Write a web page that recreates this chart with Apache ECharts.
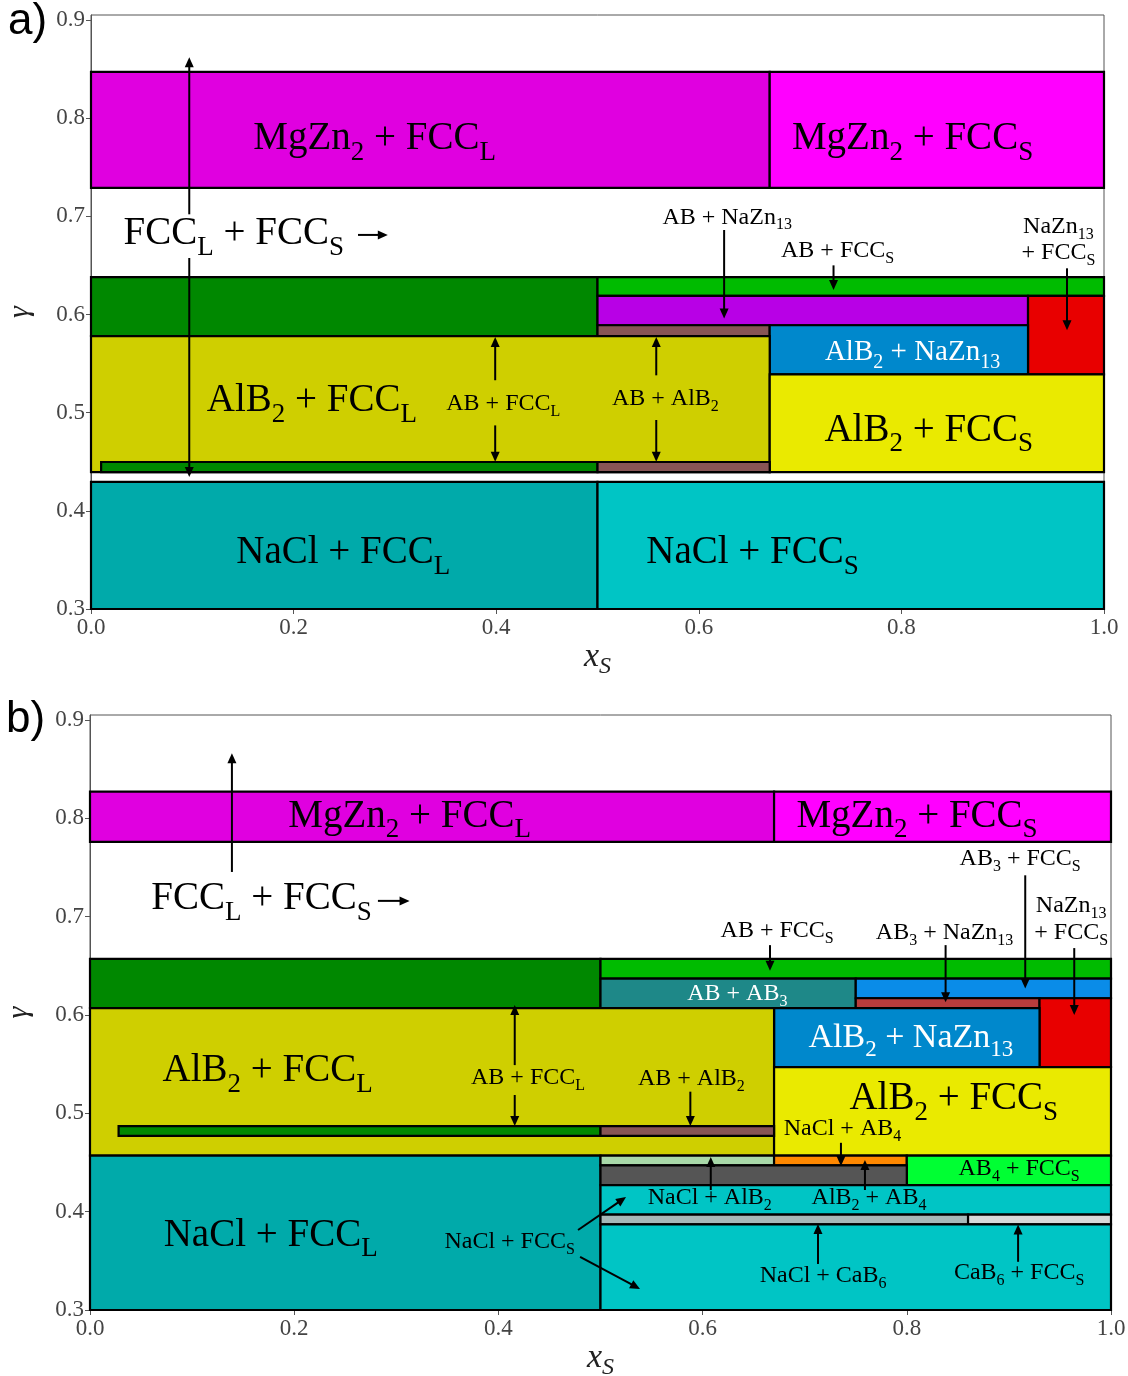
<!DOCTYPE html>
<html>
<head>
<meta charset="utf-8">
<script src="https://cdn.jsdelivr.net/npm/echarts@6/dist/echarts.min.js"></script>
<style>
  html, body { margin: 0; padding: 0; background: #fff; }
  #chart { width: 1128px; height: 1376px; }
</style>
</head>
<body>
<div id="chart"></div>
<script>
// ---- tick values ----
const xTicks = [0.0, 0.2, 0.4, 0.6, 0.8, 1.0];
const yTicks = [0.3, 0.4, 0.5, 0.6, 0.7, 0.8, 0.9];

// ---- phase regions: [phase, xS from, xS to, gamma from, gamma to] ----
const regionsA = [
  ['MgZn2+FCCL',   0.00, 0.67, 0.729, 0.847],
  ['MgZn2+FCCS',   0.67, 1.00, 0.729, 0.847],
  ['AB+FCCL',      0.00, 0.50, 0.578, 0.638],
  ['AB+FCCS',      0.50, 1.00, 0.619, 0.638],
  ['AB+NaZn13',    0.50, 0.925, 0.589, 0.619],
  ['NaZn13+FCCS',  0.925, 1.00, 0.539, 0.619],
  ['AB+AlB2',      0.50, 0.67, 0.578, 0.589],
  ['AlB2+NaZn13',  0.67, 0.925, 0.539, 0.589],
  ['AlB2+FCCL',    0.00, 0.67, 0.4395, 0.578],
  ['AlB2+FCCS',    0.67, 1.00, 0.4395, 0.539],
  ['AB+FCCL',      0.01, 0.50, 0.4395, 0.4497],
  ['AB+AlB2',      0.50, 0.67, 0.4395, 0.4497],
  ['NaCl+FCCL',    0.00, 0.50, 0.30, 0.4294],
  ['NaCl+FCCS',    0.50, 1.00, 0.30, 0.4294]
];

const regionsB = [
  ['MgZn2+FCCL',   0.00, 0.67, 0.776, 0.827],
  ['MgZn2+FCCS',   0.67, 1.00, 0.776, 0.827],
  ['AB+FCCL',      0.00, 0.50, 0.607, 0.657],
  ['AB+FCCS',      0.50, 1.00, 0.637, 0.657],
  ['AB+AB3',       0.50, 0.75, 0.607, 0.637],
  ['AB3+FCCS',     0.75, 1.00, 0.617, 0.637],
  ['AB3+NaZn13',   0.75, 0.93, 0.607, 0.617],
  ['NaZn13+FCCS',  0.93, 1.00, 0.547, 0.617],
  ['AlB2+NaZn13',  0.67, 0.93, 0.547, 0.607],
  ['AlB2+FCCL',    0.00, 0.67, 0.457, 0.607],
  ['AlB2+FCCS',    0.67, 1.00, 0.457, 0.547],
  ['AB+FCCL',      0.028, 0.50, 0.477, 0.487],
  ['AB+AlB2',      0.50, 0.67, 0.477, 0.487],
  ['NaCl+FCCL',    0.00, 0.50, 0.30, 0.457],
  ['NaCl+AlB2',    0.50, 0.67, 0.447, 0.457],
  ['NaCl+AB4',     0.67, 0.80, 0.447, 0.457],
  ['AB4+FCCS',     0.80, 1.00, 0.427, 0.457],
  ['AlB2+AB4',     0.50, 0.80, 0.427, 0.447],
  ['NaCl+FCCS',    0.50, 1.00, 0.397, 0.427],
  ['NaCl+CaB6',    0.50, 0.86, 0.387, 0.397],
  ['CaB6+FCCS',    0.86, 1.00, 0.387, 0.397],
  ['NaCl+FCCS',    0.50, 1.00, 0.30, 0.387]
];

// ---- region labels: [text, xS, gamma]; {..} marks a subscript ----
const bigLabelsA = [
  ['MgZn{2} + FCC{L}', 0.280, 0.779],
  ['MgZn{2} + FCC{S}', 0.811, 0.779],
  ['FCC{L} + FCC{S}',  0.141, 0.682],
  ['AlB{2} + FCC{L}',  0.218, 0.512],
  ['AlB{2} + FCC{S}',  0.827, 0.482],
  ['NaCl + FCC{L}',    0.249, 0.357],
  ['NaCl + FCC{S}',    0.653, 0.357]
];
const darkLabelsA = [
  ['AlB{2} + NaZn{13}', 0.811, 0.561]
];
const smallLabelsA = [
  ['AB + NaZn{13}', 0.628, 0.699],
  ['AB + FCC{S}',   0.737, 0.665],
  ['NaZn{13}',      0.955, 0.689],
  ['+ FCC{S}',      0.955, 0.663],
  ['AB + FCC{L}',   0.407, 0.509],
  ['AB + AlB{2}',   0.567, 0.514]
];

const bigLabelsB = [
  ['MgZn{2} + FCC{L}', 0.313, 0.802],
  ['MgZn{2} + FCC{S}', 0.810, 0.802],
  ['FCC{L} + FCC{S}',  0.168, 0.718],
  ['AlB{2} + FCC{L}',  0.174, 0.543],
  ['AlB{2} + FCC{S}',  0.846, 0.515],
  ['NaCl + FCC{L}',    0.177, 0.376]
];
const darkLabelsB = [
  ['AlB{2} + NaZn{13}', 0.804, 0.576]
];
const whiteSmallLabelsB = [
  ['AB + AB{3}', 0.634, 0.622]
];
const smallLabelsB = [
  ['AB{4} + FCC{S}',   0.910, 0.444],
  ['AB + FCC{S}',      0.673, 0.686],
  ['AB{3} + NaZn{13}', 0.837, 0.684],
  ['AB{3} + FCC{S}',   0.911, 0.759],
  ['NaZn{13}',         0.961, 0.711],
  ['+ FCC{S}',         0.961, 0.684],
  ['AB + FCC{L}',      0.429, 0.536],
  ['AB + AlB{2}',      0.589, 0.535],
  ['NaCl + AB{4}',     0.737, 0.484],
  ['NaCl + AlB{2}',    0.607, 0.414],
  ['AlB{2} + AB{4}',   0.763, 0.414],
  ['NaCl + FCC{S}',    0.411, 0.369],
  ['NaCl + CaB{6}',    0.718, 0.335],
  ['CaB{6} + FCC{S}',  0.910, 0.338]
];

// ---- pointer arrows: [x from, gamma from, x to, gamma to] ----
const arrowsA = [
  [0.097, 0.702, 0.097, 0.862],
  [0.097, 0.6575, 0.097, 0.4345],
  [0.2636, 0.681, 0.293, 0.681],
  [0.625, 0.686, 0.625, 0.596],
  [0.733, 0.650, 0.733, 0.625],
  [0.9635, 0.647, 0.9635, 0.584],
  [0.399, 0.533, 0.399, 0.577],
  [0.399, 0.487, 0.399, 0.450],
  [0.558, 0.538, 0.558, 0.577],
  [0.558, 0.4925, 0.558, 0.450]
];
const arrowsB = [
  [0.139, 0.7454, 0.139, 0.866],
  [0.282, 0.716, 0.313, 0.716],
  [0.666, 0.671, 0.666, 0.645],
  [0.838, 0.671, 0.838, 0.613],
  [0.916, 0.742, 0.916, 0.627],
  [0.964, 0.668, 0.964, 0.600],
  [0.416, 0.549, 0.416, 0.610],
  [0.416, 0.5186, 0.416, 0.487],
  [0.588, 0.522, 0.588, 0.487],
  [0.7355, 0.470, 0.7355, 0.4464],
  [0.608, 0.422, 0.608, 0.4556],
  [0.759, 0.422, 0.759, 0.4525],
  [0.478, 0.3813, 0.525, 0.4149],
  [0.480, 0.354, 0.5387, 0.3214],
  [0.713, 0.3468, 0.713, 0.3874],
  [0.909, 0.349, 0.909, 0.387]
];

// ---- styling ----
const phaseColors = {
  'MgZn2+FCCL': '#E000E0',
  'MgZn2+FCCS': '#FF00FF',
  'AB+FCCL': '#008800',
  'AB+FCCS': '#00BB00',
  'AB+NaZn13': '#B800E6',
  'NaZn13+FCCS': '#E80000',
  'AB+AlB2': '#885555',
  'AlB2+NaZn13': '#0088CC',
  'AlB2+FCCL': '#CFCF00',
  'AlB2+FCCS': '#EAEA00',
  'NaCl+FCCL': '#00AAAA',
  'NaCl+FCCS': '#00C5C5',
  'AB+AB3': '#1E8888',
  'AB3+FCCS': '#0A8CE8',
  'AB3+NaZn13': '#B83C3C',
  'NaCl+AlB2': '#A8D8A8',
  'NaCl+AB4': '#FF8800',
  'AB4+FCCS': '#00FF33',
  'AlB2+AB4': '#555555',
  'NaCl+CaB6': '#A6B8B8',
  'CaB6+FCCS': '#D8D8D8'
};

const SERIF = '"Liberation Serif", "Times New Roman", serif';
const AXIS_FONT = '"Liberation Serif", serif';

function richStyles(sizes) {
  const r = {};
  sizes.forEach(F => {
    const s = Math.round(F * 0.68);
    r['m' + F] = { fontSize: F, fontFamily: SERIF, lineHeight: F, verticalAlign: 'top' };
    r['s' + F] = { fontSize: s, fontFamily: SERIF, lineHeight: s, verticalAlign: 'top',
                   padding: [Math.round(F * 0.5), 0, 0, 0] };
  });
  return r;
}
const RICH = richStyles([24, 29, 34, 39]);

function toRich(str, F) {
  return str.split(/(\{[^}]*\})/).filter(s => s.length)
    .map(s => s[0] === '{' ? '{s' + F + '|' + s.slice(1, -1) + '}' : '{m' + F + '|' + s + '}')
    .join('');
}

function regionSeries(regions, gi) {
  return {
    type: 'custom', xAxisIndex: gi, yAxisIndex: gi, z: 2,
    data: regions.map(r => ({ name: r[0], value: [r[1], r[2], r[3], r[4]] })),
    renderItem: (params, api) => {
      const tl = api.coord([api.value(0), api.value(3)]);
      const br = api.coord([api.value(1), api.value(2)]);
      const key = regions[params.dataIndex][0];
      return {
        type: 'rect',
        shape: { x: tl[0], y: tl[1], width: br[0] - tl[0], height: br[1] - tl[1] },
        style: { fill: phaseColors[key], stroke: '#000', lineWidth: 2.2 }
      };
    }
  };
}

function arrowSeries(arrows, gi) {
  return {
    type: 'custom', xAxisIndex: gi, yAxisIndex: gi, z: 4,
    data: arrows.map(a => a.slice()),
    renderItem: (params, api) => {
      const a = api.coord([api.value(0), api.value(1)]);
      const b = api.coord([api.value(2), api.value(3)]);
      const dx = b[0] - a[0], dy = b[1] - a[1];
      const L = Math.hypot(dx, dy), ux = dx / L, uy = dy / L;
      const hl = 10, hw = 4.5;
      const base = [b[0] - ux * hl, b[1] - uy * hl];
      return {
        type: 'group',
        children: [
          { type: 'line', shape: { x1: a[0], y1: a[1], x2: base[0] + ux, y2: base[1] + uy },
            style: { stroke: '#000', lineWidth: 2 } },
          { type: 'polygon',
            shape: { points: [b, [base[0] - uy * hw, base[1] + ux * hw], [base[0] + uy * hw, base[1] - ux * hw]] },
            style: { fill: '#000' } }
        ]
      };
    }
  };
}

function labelSeries(labels, gi, F, color) {
  return {
    type: 'custom', xAxisIndex: gi, yAxisIndex: gi, z: 5,
    data: labels.map(l => ({ name: l[0], value: [l[1], l[2]] })),
    renderItem: (params, api) => {
      const p = api.coord([api.value(0), api.value(1)]);
      return {
        type: 'text', x: p[0], y: p[1] - F / 2,
        style: {
          text: toRich(labels[params.dataIndex][0], F),
          rich: RICH, fill: color, align: 'center', verticalAlign: 'top',
          fontFamily: SERIF, fontSize: F
        }
      };
    }
  };
}

function xAxisFor(gi) {
  return {
    gridIndex: gi, type: 'value', min: 0, max: 1, interval: 0.2,
    axisLine: { show: true, onZero: false, lineStyle: { color: '#555', width: 1 } },
    axisTick: { show: true, length: 5, lineStyle: { color: '#555' } },
    axisLabel: { formatter: v => v.toFixed(1), fontFamily: AXIS_FONT, fontSize: 23, color: '#444', margin: 7 },
    splitLine: { show: false },
    name: '{i|x}{j|S}', nameLocation: 'middle', nameGap: 29,
    nameTextStyle: {
      rich: {
        i: { fontFamily: SERIF, fontStyle: 'italic', fontSize: 34, lineHeight: 34, verticalAlign: 'top', color: '#222' },
        j: { fontFamily: SERIF, fontStyle: 'italic', fontSize: 24, lineHeight: 24, verticalAlign: 'top', color: '#222', padding: [15, 0, 0, 0] }
      }
    }
  };
}

function yAxisFor(gi) {
  return {
    gridIndex: gi, type: 'value', min: 0.3, max: 0.905,
    axisLine: { show: true, onZero: false, lineStyle: { color: '#555', width: 1 } },
    axisTick: { show: true, length: 5, customValues: yTicks, lineStyle: { color: '#555' } },
    axisLabel: { customValues: yTicks, formatter: v => v.toFixed(1), fontFamily: AXIS_FONT, fontSize: 23, color: '#444', margin: 6 },
    splitLine: { show: false },
    name: 'γ', nameLocation: 'middle', nameGap: 56, nameRotate: 90,
    nameTextStyle: { fontFamily: SERIF, fontStyle: 'italic', fontSize: 30, color: '#222' }
  };
}

const chart = echarts.init(document.getElementById('chart'), null, { renderer: 'canvas' });
chart.setOption({
  backgroundColor: '#fff',
  animation: false,
  grid: [
    { left: 91, top: 15, width: 1013, height: 594, show: true, borderColor: '#555', borderWidth: 1,
      backgroundColor: 'transparent', containLabel: false, outerBoundsMode: 'none' },
    { left: 90, top: 715, width: 1021, height: 595, show: true, borderColor: '#555', borderWidth: 1,
      backgroundColor: 'transparent', containLabel: false, outerBoundsMode: 'none' }
  ],
  xAxis: [xAxisFor(0), xAxisFor(1)],
  yAxis: [yAxisFor(0), yAxisFor(1)],
  graphic: [
    { type: 'text', left: 8, top: 0, style: { text: 'a)', fontFamily: '"Liberation Sans", Arial, sans-serif', fontSize: 44, fill: '#000' } },
    { type: 'text', left: 6, top: 698, style: { text: 'b)', fontFamily: '"Liberation Sans", Arial, sans-serif', fontSize: 44, fill: '#000' } }
  ],
  series: [
    regionSeries(regionsA, 0),
    arrowSeries(arrowsA, 0),
    labelSeries(bigLabelsA, 0, 39, '#000'),
    labelSeries(darkLabelsA, 0, 29, '#fff'),
    labelSeries(smallLabelsA, 0, 24, '#000'),
    regionSeries(regionsB, 1),
    arrowSeries(arrowsB, 1),
    labelSeries(bigLabelsB, 1, 39, '#000'),
    labelSeries(darkLabelsB, 1, 34, '#fff'),
    labelSeries(whiteSmallLabelsB, 1, 24, '#fff'),
    labelSeries(smallLabelsB, 1, 24, '#000')
  ]
});
</script>
</body>
</html>
